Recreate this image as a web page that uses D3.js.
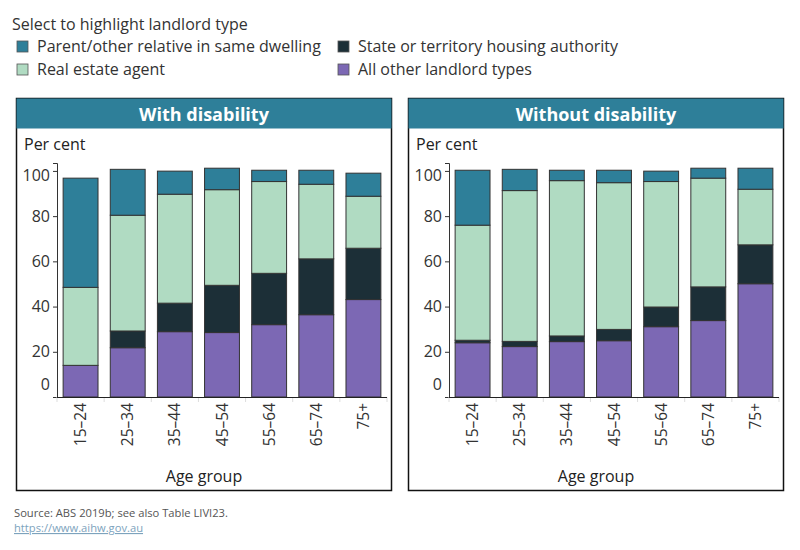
<!DOCTYPE html>
<html>
<head>
<meta charset="utf-8">
<script src="https://cdn.jsdelivr.net/npm/d3@7"></script>
<style>
  body { margin: 0; background: #fff; font-family: "Open Sans", sans-serif; }
  svg text { font-family: "Open Sans", sans-serif; }
</style>
</head>
<body>
<div id="chart"></div>
<script>
// categories
var ageGroups = ["15–24", "25–34", "35–44", "45–54", "55–64", "65–74", "75+"];
var landlordTypes = ["Parent/other relative in same dwelling", "State or territory housing authority",
                     "Real estate agent", "All other landlord types"];
var yTicks = [0, 20, 40, 60, 80, 100];

// per cent, with disability
var withOther  = [14.0, 21.8, 28.9, 28.5, 32.0, 36.4, 43.1];
var withState  = [0.0, 7.4, 12.6, 20.9, 22.7, 24.7, 22.7];
var withReal   = [34.5, 51.2, 48.2, 42.3, 40.6, 33.0, 23.0];
var withParent = [48.3, 20.3, 10.2, 9.5, 5.0, 6.2, 10.2];

// per cent, without disability
var withoutOther  = [24.0, 22.3, 24.5, 24.9, 31.1, 33.8, 50.1];
var withoutState  = [1.1, 2.3, 2.5, 5.0, 8.7, 14.9, 17.2];
var withoutReal   = [50.9, 66.7, 68.7, 64.9, 55.5, 48.1, 24.6];
var withoutParent = [24.3, 9.4, 4.6, 5.5, 4.6, 4.4, 9.3];

var color = d3.scaleOrdinal()
  .domain(landlordTypes)
  .range(["#2e7f99", "#1c2f37", "#b0dbc2", "#7c68b4"]);

var stackKeys = ["other", "state", "real", "parent"];
var keyColor = {other: "#7c68b4", state: "#1c2f37", real: "#b0dbc2", parent: "#2e7f99"};

var svg = d3.select("#chart").append("svg")
  .attr("width", 800)
  .attr("height", 550);

// legend
svg.append("text")
  .attr("x", 12).attr("y", 30)
  .attr("font-size", 16).attr("fill", "#333")
  .text("Select to highlight landlord type");

var legPos = [[17, 41], [338, 41], [17, 64], [338, 64]];
landlordTypes.forEach(function(t, i) {
  var g = svg.append("g").attr("transform", "translate(" + legPos[i][0] + "," + legPos[i][1] + ")");
  g.append("rect").attr("width", 11).attr("height", 11)
    .attr("fill", color(t)).attr("stroke", "#555").attr("stroke-width", 0.8);
  g.append("text").attr("x", 20).attr("y", 11)
    .attr("font-size", 16).attr("fill", "#333").text(t);
});

const drawPanel = (px, title, other, state, real, parent) => {
  var data = ageGroups.map(function(a, i) {
    return {age: a, other: other[i], state: state[i], real: real[i], parent: parent[i]};
  });

  var p = svg.append("g").attr("transform", "translate(" + px + ",98)");

  p.append("rect").attr("x", 0.5).attr("y", 0.5)
    .attr("width", 375).attr("height", 392)
    .attr("fill", "none").attr("stroke", "#111").attr("stroke-width", 1.5);
  p.append("rect").attr("x", 0.5).attr("y", 0.5)
    .attr("width", 375).attr("height", 30)
    .attr("fill", "#2e7f99");
  p.append("text")
    .attr("x", 188).attr("y", 23)
    .attr("text-anchor", "middle")
    .attr("font-size", 18).attr("font-weight", "bold").attr("fill", "#fff")
    .text(title);

  p.append("text").attr("x", 8).attr("y", 52)
    .attr("font-size", 16).attr("fill", "#222").text("Per cent");

  var x = d3.scaleBand()
    .domain(ageGroups)
    .range([41, 371])
    .paddingInner(0.26)
    .paddingOuter(0.13);

  var y = d3.scaleLinear()
    .domain([0, 103.5])
    .range([299, 65]);

  // Y axis
  var ya = p.append("g")
    .attr("transform", "translate(41,0)")
    .call(d3.axisLeft(y).tickValues(yTicks).tickSize(4).tickPadding(3));
  ya.select(".domain").attr("stroke", "#333");
  ya.selectAll(".tick line").attr("stroke", "#333");
  ya.selectAll(".tick text")
    .attr("font-size", 16).attr("fill", "#333")
    .attr("dy", function(d) { return d === 100 ? "0.6em" : (d === 0 ? "-0.45em" : "0.32em"); });

  // band separators under baseline
  p.append("g").selectAll("line")
    .data(ageGroups.concat(["end"]))
    .enter().append("line")
      .attr("x1", function(d, i) { return 41 + i * x.step(); })
      .attr("x2", function(d, i) { return 41 + i * x.step(); })
      .attr("y1", 299).attr("y2", 304)
      .attr("stroke", "#ddd");

  var series = d3.stack().keys(stackKeys)(data);

  p.append("g").selectAll("g")
    .data(series)
    .enter().append("g")
      .attr("fill", function(s) { return keyColor[s.key]; })
    .selectAll("rect")
    .data(function(s) { return s; })
    .enter().append("rect")
      .attr("x", function(d) { return x(d.data.age); })
      .attr("width", x.bandwidth())
      .attr("y", function(d) { return y(d[1]); })
      .attr("height", function(d) { return y(d[0]) - y(d[1]); })
      .attr("stroke", "#333")
      .attr("stroke-width", 1);

  // baseline
  p.append("line")
    .attr("x1", 41).attr("x2", 371)
    .attr("y1", 299.5).attr("y2", 299.5)
    .attr("stroke", "#222");

  // X axis labels
  p.append("g").selectAll("text")
    .data(ageGroups)
    .enter().append("text")
      .attr("transform", function(d) {
        return "translate(" + (x(d) + x.bandwidth() / 2 + 5.5) + ",305) rotate(-90)";
      })
      .attr("text-anchor", "end")
      .attr("font-size", 15.5).attr("fill", "#333")
      .text(function(d) { return d; });

  p.append("text")
    .attr("x", 188).attr("y", 384)
    .attr("text-anchor", "middle")
    .attr("font-size", 16).attr("fill", "#222")
    .text("Age group");
};

drawPanel(16, "With disability", withOther, withState, withReal, withParent);
drawPanel(408, "Without disability", withoutOther, withoutState, withoutReal, withoutParent);

// footer
svg.append("text").attr("x", 14).attr("y", 517)
  .attr("font-size", 11.2).attr("fill", "#555")
  .text("Source: ABS 2019b; see also Table LIVI23.");
svg.append("text").attr("x", 14).attr("y", 532)
  .attr("font-size", 11.2).attr("fill", "#7da3bd")
  .attr("text-decoration", "underline")
  .text("https://www.aihw.gov.au");
</script>
</body>
</html>
